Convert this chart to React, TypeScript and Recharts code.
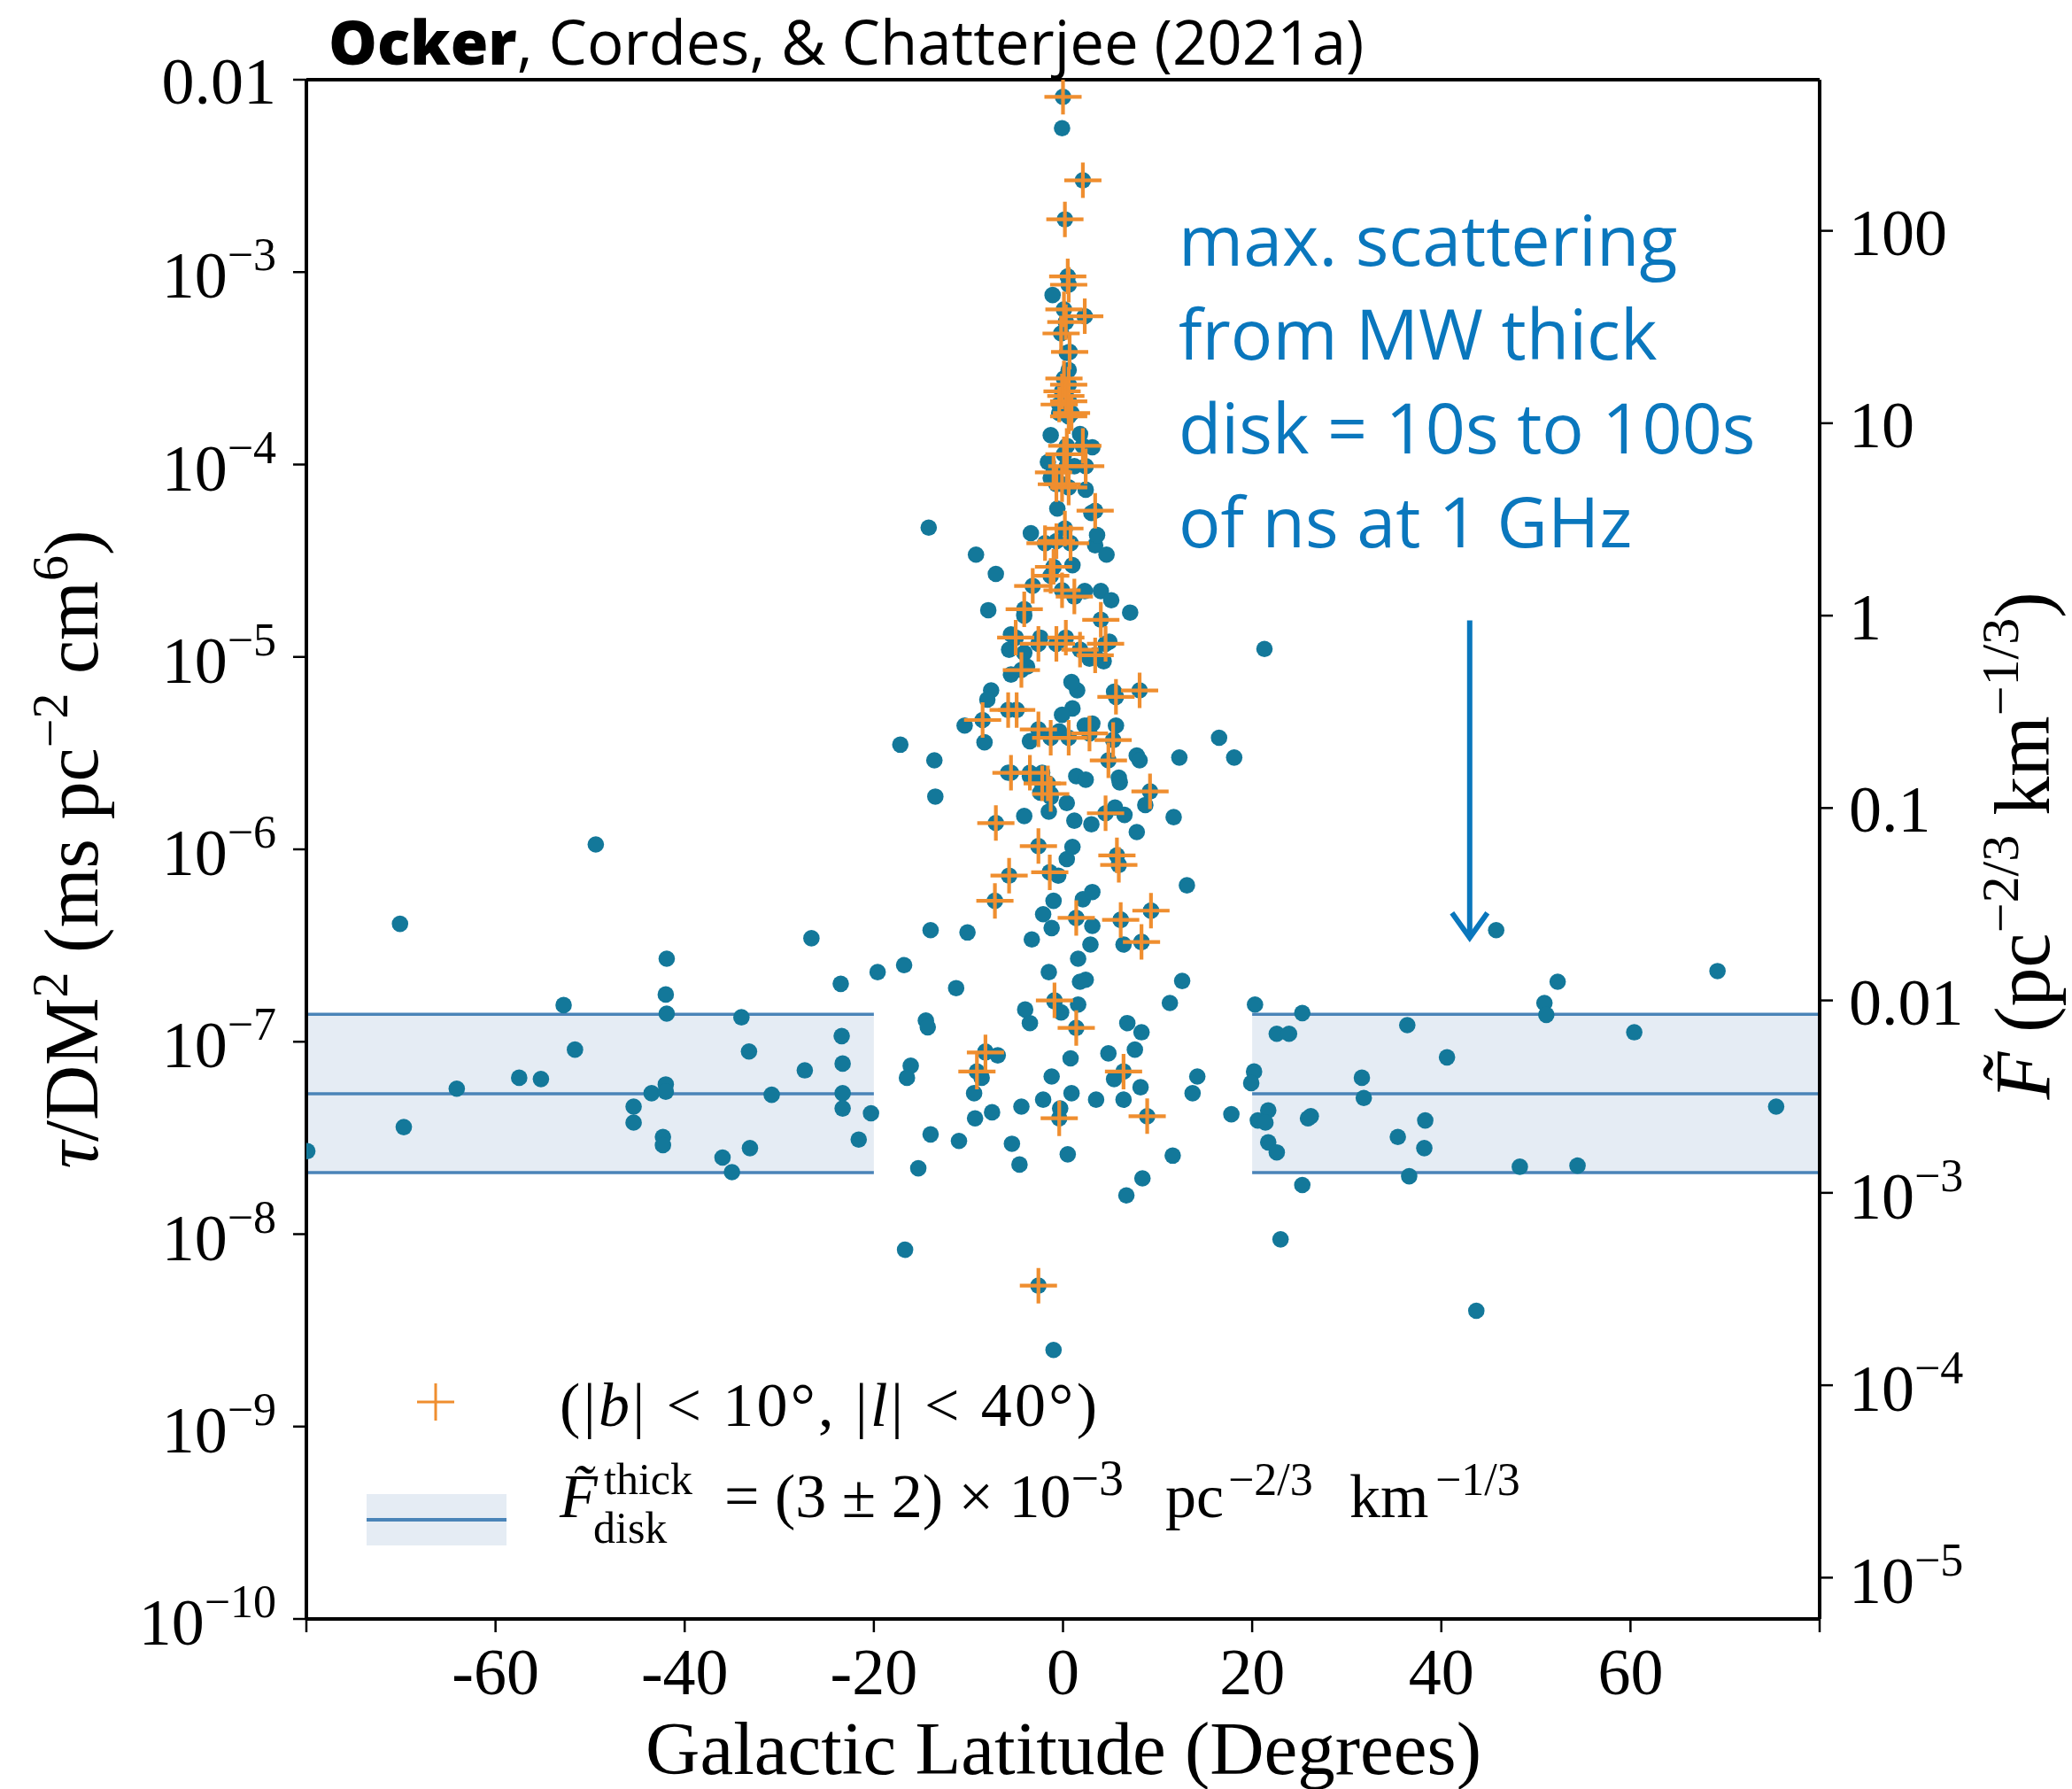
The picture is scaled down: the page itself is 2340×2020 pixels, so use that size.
import React from 'react';
import { ScatterChart, Scatter, XAxis, YAxis, ReferenceArea, ReferenceLine } from 'recharts';

const SERIF = "'Liberation Serif', 'DejaVu Serif', serif";
const SANS = "'Open Sans', Lato, sans-serif";
const TEAL = '#13789a';
const ORANGE = '#ef8e2f';
const BAND_FILL = '#e5ecf4';
const BAND_LINE = '#4a84b8';
const NOTE_BLUE = '#0a77bd';

// [galactic latitude (deg), tau/DM^2 (ms pc^-2 cm^6)]
const southDots: [number, number][] = [
  [-79.9, 2.7e-8], [-70.1, 4.1e-7], [-69.7, 3.6e-8], [-64.1, 5.7e-8], [-57.5, 6.5e-8], [-55.2, 6.4e-8],
  [-52.8, 1.55e-7], [-51.6, 9.1e-8], [-49.4, 1.06e-6], [-45.4, 4.6e-8], [-45.4, 3.8e-8], [-43.5, 5.4e-8],
  [-41.9, 2.7e-7], [-42.0, 1.76e-7], [-41.9, 1.4e-7], [-42.0, 6.0e-8], [-42.0, 5.5e-8], [-42.3, 3.2e-8],
  [-42.3, 2.9e-8], [-36.0, 2.5e-8], [-35.0, 2.1e-8], [-34.0, 1.34e-7], [-33.2, 8.9e-8], [-33.1, 2.8e-8],
  [-30.8, 5.3e-8], [-27.3, 7.1e-8], [-26.6, 3.45e-7], [-23.5, 2.0e-7], [-23.4, 1.07e-7], [-23.3, 7.7e-8],
  [-23.3, 5.4e-8], [-23.3, 4.5e-8], [-21.6, 3.1e-8], [-20.3, 4.25e-8], [-19.6, 2.3e-7], [-16.8, 2.5e-7],
  [-17.2, 3.5e-6], [-16.1, 7.5e-8], [-16.5, 6.5e-8], [-16.7, 8.3e-9],
];

const planeDots: [number, number][] = [
  [-13.6, 2.9e-6], [-13.5, 1.88e-6], [-14.0, 3.8e-7], [-14.5, 1.29e-7], [-14.3, 1.19e-7], [-14.0, 3.3e-8],
  [-15.3, 2.2e-8], [-14.2, 4.7e-5], [-10.1, 3.7e-7], [-11.3, 1.9e-7], [-9.4, 5.4e-8], [-8.6, 6.5e-8],
  [-8.2, 8.9e-8], [-6.9, 8.5e-8], [-9.3, 4.0e-8], [-7.5, 4.3e-8], [-11.0, 3.05e-8], [-4.4, 4.6e-8],
  [-5.4, 2.95e-8], [-4.6, 2.3e-8], [-2.1, 5.0e-8], [-1.2, 6.6e-8], [-0.3, 4.5e-8], [0.9, 5.4e-8],
  [0.5, 2.6e-8], [3.5, 5.0e-8], [6.4, 5.0e-8], [4.8, 8.7e-8], [5.4, 6.4e-8], [8.2, 5.8e-8],
  [6.8, 1.25e-7], [8.3, 1.12e-7], [7.6, 9.1e-8], [0.8, 8.2e-8], [-4.0, 1.47e-7], [-3.5, 1.25e-7],
  [-0.9, 1.62e-7], [-0.2, 1.42e-7], [1.6, 1.56e-7], [-1.5, 2.3e-7], [1.8, 2.05e-7], [2.4, 2.1e-7],
  [1.6, 2.7e-7], [2.9, 3.2e-7], [3.1, 4.0e-7], [-1.2, 3.9e-7], [-2.1, 4.6e-7], [-1.0, 5.4e-7],
  [-3.3, 3.4e-7], [1.4, 4.4e-7], [2.1, 5.5e-7], [3.1, 6.0e-7], [6.1, 4.3e-7], [6.4, 3.2e-7],
  [8.3, 3.3e-7], [9.3, 4.8e-7], [13.1, 6.5e-7], [12.6, 2.07e-7], [11.3, 1.59e-7], [14.2, 6.6e-8],
  [13.7, 5.4e-8], [11.6, 2.56e-8], [8.4, 1.95e-8], [6.7, 1.59e-8], [-1.0, 2.5e-9], [17.8, 4.2e-8],
];

const coreDots: [number, number][] = [
  [-9.2, 3.4e-5], [-7.1, 2.7e-5], [-7.9, 1.75e-5], [-3.4, 4.4e-5], [3.4, 3.8e-5], [3.6, 4.3e-5],
  [1.0, 3.0e-5], [2.3, 2.2e-5], [4.0, 2.2e-5], [5.1, 1.97e-5], [7.1, 1.7e-5], [-4.1, 1.64e-5],
  [4.9, 1.2e-5], [4.3, 9.5e-6], [-5.5, 1.31e-5], [-5.5, 8.1e-6], [-7.6, 6.7e-6], [-8.0, 6.0e-6],
  [-10.4, 4.4e-6], [-8.3, 3.6e-6], [-4.1, 1.49e-6], [1.2, 1.41e-6], [3.0, 1.35e-6], [-1.5, 1.57e-6],
  [0.4, 1.74e-6], [5.5, 1.65e-6], [6.5, 1.51e-6], [7.8, 1.23e-6], [0.4, 8.9e-7], [1.0, 1.03e-6],
  [5.9, 2.36e-6], [6.0, 2.23e-6], [8.7, 1.7e-6], [7.8, 3.07e-6], [8.1, 2.9e-6], [11.7, 1.47e-6],
  [12.3, 3.0e-6], [-0.5, 7.3e-7], [5.6, 4.4e-6], [5.4, 6.6e-6], [1.5, 6.7e-6], [1.0, 5.4e-6],
  [2.3, 4.4e-6], [3.1, 4.5e-6], [-0.4, 4.1e-6], [-0.1, 5.0e-6], [-3.5, 3.65e-6], [-1.3, 1.87e-6],
  [-2.2, 2.5e-6], [-3.5, 2.4e-6], [1.4, 2.4e-6], [2.4, 2.3e-6], [-2.4, 1.97e-6], [-5.8, 2.5e-6],
  [2.8, 9.8e-6], [4.6, 3.4e-5], [-5.7, 1.09e-5], [-2.4, 1.26e-5], [-4.1, 1.05e-5], [-3.8, 8.9e-6],
  [0.9, 7.4e-6], [-0.1, 5.6e-3], [-1.1, 7.6e-4], [0.4, 3.8e-4], [0.6, 3.1e-4], [-0.4, 1.85e-4],
  [1.8, 1.44e-4], [3.1, 1.23e-4], [-1.3, 1.42e-4], [-1.6, 1.03e-4], [-1.3, 8.5e-5], [1.2, 9.8e-5],
  [2.4, 7.4e-5], [3.0, 5.6e-5], [-0.6, 5.9e-5],
];

const northDots: [number, number][] = [
  [21.3, 1.1e-5], [16.5, 3.8e-6], [18.1, 3.0e-6], [45.8, 3.8e-7], [20.3, 1.56e-7], [25.3, 1.41e-7],
  [22.6, 1.1e-7], [23.9, 1.1e-7], [20.2, 7.0e-8], [19.9, 6.1e-8], [21.7, 4.4e-8], [20.6, 3.9e-8],
  [21.4, 3.8e-8], [26.2, 4.1e-8], [25.9, 4.0e-8], [21.7, 3.0e-8], [22.6, 2.66e-8], [25.3, 1.8e-8],
  [23.0, 9.4e-9], [31.6, 6.5e-8], [31.8, 5.1e-8], [36.4, 1.22e-7], [40.6, 8.3e-8], [35.4, 3.2e-8],
  [38.3, 3.9e-8], [38.2, 2.8e-8], [36.6, 2.0e-8], [43.7, 4.0e-9], [48.3, 2.24e-8], [54.4, 2.27e-8],
  [50.9, 1.59e-7], [52.3, 2.05e-7], [51.1, 1.38e-7], [60.4, 1.12e-7], [69.2, 2.33e-7], [75.4, 4.6e-8],
];

// pulsars with |b| < 10 deg, |l| < 40 deg (also part of the full sample)
const innerCrosses: [number, number][] = [
  [0.0, 8.15e-3], [2.1, 3.0e-3], [0.2, 1.88e-3], [0.5, 9.5e-4], [0.6, 8.6e-4], [0.1, 6.4e-4],
  [0.3, 5.5e-4], [2.3, 5.9e-4], [-0.2, 4.8e-4], [0.7, 3.85e-4], [0.1, 2.8e-4], [0.6, 2.6e-4],
  [-0.1, 2.4e-4], [0.3, 2.27e-4], [0.6, 2.13e-4], [-0.4, 2.05e-4], [0.9, 1.85e-4], [0.6, 1.78e-4],
  [0.4, 1.25e-4], [2.1, 1.25e-4], [0.1, 1.13e-4], [2.4, 9.8e-5], [0.4, 9.8e-5], [-1.0, 9.1e-5],
  [-0.1, 7.9e-5], [-0.7, 7.9e-5], [0.6, 7.6e-5], [0.2, 4.65e-5], [0.8, 3.9e-5], [3.4, 5.75e-5],
  [-1.9, 3.9e-5], [-0.7, 4.0e-5], [-1.0, 2.94e-5], [-1.3, 2.64e-5], [1.2, 2.06e-5], [-0.1, 2.22e-5],
  [-3.2, 2.34e-5], [-4.1, 1.77e-5], [4.0, 1.56e-5], [-5.0, 1.26e-5], [-2.6, 1.17e-5], [-0.7, 1.17e-5],
  [0.3, 1.26e-5], [1.8, 1.09e-5], [3.4, 1.02e-5], [4.5, 1.17e-5], [-4.4, 8.55e-6], [5.6, 6.2e-6],
  [8.1, 6.7e-6], [-5.8, 5.3e-6], [-4.9, 5.3e-6], [-8.5, 4.7e-6], [-2.6, 4.2e-6], [-1.3, 3.8e-6],
  [0.6, 3.8e-6], [2.8, 4.0e-6], [5.3, 3.7e-6], [4.8, 2.9e-6], [-5.5, 2.5e-6], [-3.5, 2.5e-6],
  [-2.2, 2.2e-6], [-1.6, 2.2e-6], [-1.3, 1.94e-6], [9.2, 2.0e-6], [4.5, 1.54e-6], [-7.1, 1.37e-6],
  [-2.6, 1.04e-6], [5.7, 9.3e-7], [5.9, 8.3e-7], [-5.7, 7.3e-7], [-1.4, 7.6e-7], [-7.2, 5.4e-7],
  [1.4, 4.4e-7], [6.1, 4.3e-7], [9.3, 4.8e-7], [8.3, 3.3e-7], [-0.9, 1.64e-7], [1.4, 1.18e-7],
  [-8.2, 8.8e-8], [-9.1, 7.0e-8], [6.4, 7.0e-8], [-0.4, 4.0e-8], [8.9, 4.1e-8], [-2.6, 5.4e-9],
];

const latTicks = [-80, -60, -40, -20, 0, 20, 40, 60, 80];
const tauTicks = [1e-10, 1e-9, 1e-8, 1e-7, 1e-6, 1e-5, 1e-4, 1e-3, 1e-2];
const fTicks = [1e-5, 1e-4, 1e-3, 1e-2, 0.1, 1, 10, 100];
const F_PER_TAU = 61000;

// thick-disk band (in tau/DM^2 units) and the latitude ranges it is drawn over
const bandLow = 2.09e-8;
const bandMid = 5.36e-8;
const bandHigh = 1.39e-7;
const bandRanges: [number, number][] = [[-80, -20], [20, 80]];

// annotation arrow
const arrowLat = 43;
const arrowFrom = 1.55e-5;
const arrowTo = 3.4e-7;

const noteLines = ['max. scattering', 'from MW thick', 'disk = 10s to 100s', 'of ns at 1 GHz'];

const Dot = (p: any) => <circle cx={p.cx} cy={p.cy} r={9.3} fill={TEAL} />;

const Cross = (p: any) => (
  <path
    d={`M${p.cx - 21},${p.cy}H${p.cx + 21}M${p.cx},${p.cy - 20}V${p.cy + 20}`}
    stroke={ORANGE}
    strokeWidth={4.2}
    fill="none"
  />
);

const Arrow = (p: any) => {
  const { x1, y1, x2, y2 } = p;
  return (
    <g stroke={NOTE_BLUE} strokeWidth={6} fill="none">
      <line x1={x1} y1={y1} x2={x2} y2={y2 - 3} />
      <path d={`M${x2 - 20},${y2 - 30}L${x2},${y2 - 2}L${x2 + 20},${y2 - 30}`} strokeLinejoin="miter" />
    </g>
  );
};

const XTick = (p: any) => {
  const v = p.payload.value;
  if (Math.abs(v) === 80) return <g />;
  return (
    <text x={p.x} y={p.y + 70} textAnchor="middle" fontFamily={SERIF} fontSize={74} fill="#000">
      {String(v)}
    </text>
  );
};

const LeftTick = (p: any) => {
  const e = Math.round(Math.log10(p.payload.value));
  const tx = p.x - 19;
  if (e === -2) {
    return (
      <text x={tx} y={p.y + 27} textAnchor="end" fontFamily={SERIF} fontSize={74} fill="#000">0.01</text>
    );
  }
  return (
    <text x={tx} y={p.y + 29} textAnchor="end" fontFamily={SERIF} fontSize={74} fill="#000">
      10<tspan dy={-31} fontSize={52}>{'\u2212' + -e}</tspan>
    </text>
  );
};

const RightTick = (p: any) => {
  const e = Math.round(Math.log10(p.payload.value));
  const tx = p.x + 18;
  if (e >= -2) {
    const txt = e === -2 ? '0.01' : e === -1 ? '0.1' : String(Math.pow(10, e));
    return (
      <text x={tx} y={p.y + 27} textAnchor="start" fontFamily={SERIF} fontSize={74} fill="#000">{txt}</text>
    );
  }
  return (
    <text x={tx} y={p.y + 29} textAnchor="start" fontFamily={SERIF} fontSize={74} fill="#000">
      10<tspan dy={-31} fontSize={52}>{'\u2212' + -e}</tspan>
    </text>
  );
};

const axisLine = { stroke: '#000', strokeWidth: 4 };
const tickLine = { stroke: '#000', strokeWidth: 2.5 };

export default function App() {
  const allPulsars = [...southDots, ...planeDots, ...coreDots, ...northDots, ...innerCrosses];
  const dots = allPulsars.map(([b, tau]) => ({ b, tau }));
  const crosses = innerCrosses.map(([b, tau]) => ({ b, tau }));

  return (
    <div style={{ position: 'absolute', left: 0, top: 0, width: 2340, height: 2020, background: '#fff' }}>
      <ScatterChart width={2340} height={2020} margin={{ top: 90, right: 85, bottom: 42, left: 146 }}>
        {bandRanges.map(([a, b]) => (
          <ReferenceArea
            key={`area${a}`}
            yAxisId="left"
            x1={a}
            x2={b}
            y1={bandLow}
            y2={bandHigh}
            fill={BAND_FILL}
            fillOpacity={1}
            stroke="none"
          />
        ))}
        <XAxis
          type="number"
          dataKey="b"
          domain={[-80, 80]}
          ticks={latTicks}
          interval={0}
          allowDataOverflow
          height={150}
          tickSize={15}
          tickMargin={0}
          axisLine={axisLine}
          tickLine={tickLine}
          tick={XTick}
        />
        <YAxis
          yAxisId="left"
          type="number"
          dataKey="tau"
          scale="log"
          domain={[1e-10, 1e-2]}
          ticks={tauTicks}
          interval={0}
          allowDataOverflow
          width={200}
          tickSize={15}
          tickMargin={0}
          axisLine={axisLine}
          tickLine={tickLine}
          tick={LeftTick}
        />
        <YAxis
          yAxisId="right"
          orientation="right"
          type="number"
          scale="log"
          domain={[1e-10 * F_PER_TAU, 1e-2 * F_PER_TAU]}
          ticks={fTicks}
          interval={0}
          allowDataOverflow
          width={200}
          tickSize={15}
          tickMargin={0}
          axisLine={axisLine}
          tickLine={tickLine}
          tick={RightTick}
        />
        <Scatter yAxisId="left" data={dots} shape={Dot} isAnimationActive={false} />
        {bandRanges.flatMap(([a, b]) =>
          [bandLow, bandMid, bandHigh].map((v) => (
            <ReferenceLine
              key={`l${a}-${v}`}
              yAxisId="left"
              segment={[{ x: a, y: v }, { x: b, y: v }]}
              stroke={BAND_LINE}
              strokeWidth={3.5}
              ifOverflow="visible"
            />
          ))
        )}
        <Scatter yAxisId="left" data={crosses} shape={Cross} isAnimationActive={false} />
        <ReferenceLine yAxisId="left" y={1e-2} stroke="#000" strokeWidth={4} ifOverflow="visible" />
        <ReferenceLine
          yAxisId="left"
          segment={[{ x: arrowLat, y: arrowFrom }, { x: arrowLat, y: arrowTo }]}
          shape={Arrow}
          ifOverflow="visible"
        />
      </ScatterChart>

      <svg
        width={2340}
        height={2020}
        style={{ position: 'absolute', left: 0, top: 0, pointerEvents: 'none' }}
      >
        {/* title */}
        <text x={371} y={73} fontFamily={SANS} fontSize={69} fill="#000">
          <tspan fontWeight={800}>Ocker</tspan>
          {', Cordes, & Chatterjee (2021a)'}
        </text>

        {/* annotation */}
        {noteLines.map((t, i) => (
          <text key={t} x={1331} y={300 + i * 106} fontFamily={SANS} fontSize={79} fill={NOTE_BLUE}>
            {t}
          </text>
        ))}

        {/* axis labels */}
        <text x={1201} y={2003} textAnchor="middle" fontFamily={SERIF} fontSize={85} fill="#000">
          Galactic Latitude (Degrees)
        </text>
        <text transform="translate(110,959) rotate(-90)" textAnchor="middle" fontFamily={SERIF} fontSize={86} fill="#000">
          <tspan fontStyle="italic">τ</tspan>
          {'/DM'}
          <tspan dy={-34} fontSize={58}>2</tspan>
          <tspan dy={34}>{' (ms pc'}</tspan>
          <tspan dy={-34} fontSize={58}>{'\u22122'}</tspan>
          <tspan dy={34}>{' cm'}</tspan>
          <tspan dy={-34} fontSize={58}>6</tspan>
          <tspan dy={34}>)</tspan>
        </text>
        <text transform="translate(2314,955) rotate(-90)" textAnchor="middle" fontFamily={SERIF} fontSize={88} fill="#000">
          <tspan fontStyle="italic">{'F\u0303'}</tspan>
          {' (pc'}
          <tspan dy={-35} fontSize={60}>{'\u22122/3'}</tspan>
          <tspan dy={35}>{' km'}</tspan>
          <tspan dy={-35} fontSize={60}>{'\u22121/3'}</tspan>
          <tspan dy={35}>)</tspan>
        </text>

        {/* legend */}
        <path d="M471,1583H513M492,1562V1604" stroke={ORANGE} strokeWidth={3} fill="none" />
        <text x={632} y={1610} fontFamily={SERIF} fontSize={70} fill="#000" textLength={607} lengthAdjust="spacing">
          {'(|'}
          <tspan fontStyle="italic">b</tspan>
          {'| < 10°, |'}
          <tspan fontStyle="italic">l</tspan>
          {'| < 40°)'}
        </text>
        <rect x={414} y={1687} width={158} height={58} fill={BAND_FILL} />
        <line x1={414} y1={1716} x2={572} y2={1716} stroke={BAND_LINE} strokeWidth={4} />
        <g fontFamily={SERIF} fill="#000">
          <text x={632} y={1713} fontSize={70} fontStyle="italic">{'F\u0303'}</text>
          <text x={682} y={1687} fontSize={50}>thick</text>
          <text x={670} y={1742} fontSize={50}>disk</text>
          <text x={818} y={1713} fontSize={70}>
            {'= (3 ± 2) × 10'}
            <tspan dy={-25} fontSize={56}>{'\u22123'}</tspan>
          </text>
          <text x={1316} y={1713} fontSize={70}>pc</text>
          <text x={1387} y={1688} fontSize={52}>{'\u22122/3'}</text>
          <text x={1524} y={1713} fontSize={70}>km</text>
          <text x={1621} y={1688} fontSize={52}>{'\u22121/3'}</text>
        </g>
      </svg>
    </div>
  );
}
